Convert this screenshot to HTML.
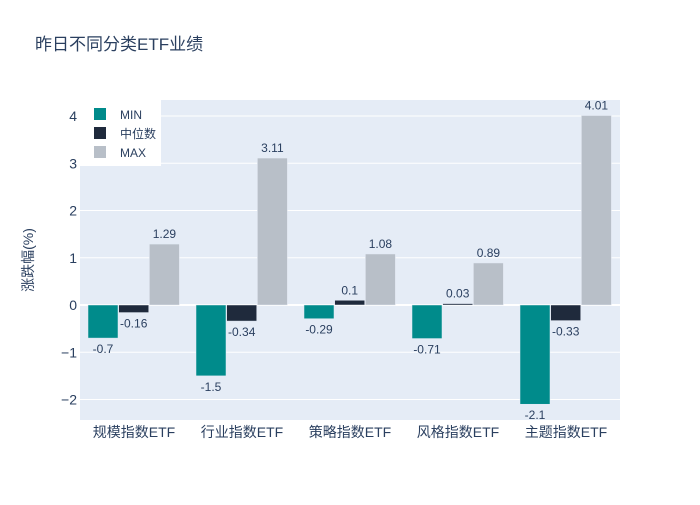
<!DOCTYPE html>
<html><head><meta charset="utf-8"><style>
body{margin:0;background:#fff;}
svg text{font-family:"Liberation Sans","Noto Sans CJK SC",sans-serif;}
</style></head><body>
<svg id="chart" width="700" height="500">
<text x="35" y="50" font-size="17" fill="#2a3f5f">昨日不同分类ETF业绩</text>
<rect x="80" y="100" width="540" height="320" fill="#e5ecf6"/>
<g id="grid"></g><g id="bars"></g><g id="labels"></g>
<text transform="translate(33,260) rotate(-90)" text-anchor="middle" font-size="14" fill="#2a3f5f">涨跌幅(%)</text>
<g id="legend"></g>
</svg>
<script>
const categories=["规模指数ETF","行业指数ETF","策略指数ETF","风格指数ETF","主题指数ETF"];
const seriesNames=["MIN","中位数","MAX"];
const minVals=[-0.7,-1.5,-0.29,-0.71,-2.1];
const medVals=[-0.16,-0.34,0.1,0.03,-0.33];
const maxVals=[1.29,3.11,1.08,0.89,4.01];
const yTicks=[-2,-1,0,1,2,3,4];
const colors=["#008b8b","#1f2a3c","#b8bfc8"];
const NS="http://www.w3.org/2000/svg";
const y=v=>305-v*47.25;
const band=108,x0=80;
function mk(tag,attrs,parent){const e=document.createElementNS(NS,tag);for(const k in attrs)e.setAttribute(k,attrs[k]);parent.appendChild(e);return e;}
const grid=document.getElementById('grid'),bars=document.getElementById('bars'),labels=document.getElementById('labels'),legend=document.getElementById('legend');
yTicks.forEach(t=>{
 const l=mk('line',{x1:80,x2:620,y1:y(t),y2:y(t),stroke:'#fff','stroke-width':t===0?2:1},grid);
 
 
 const tx=mk('text',{x:77,y:y(t)+5,'text-anchor':'end','font-size':14,fill:'#2a3f5f'},grid);
 
 
 tx.textContent=t<0?'\u2212'+Math.abs(t):String(t);
});
const all=[minVals,medVals,maxVals];
categories.forEach((c,i)=>{
 const gx=x0+i*band+8;
 all.forEach((arr,s)=>{
  const v=arr[i],bx=gx+s*30.7,top=Math.min(y(v),y(0)),h=Math.abs(y(v)-y(0));
  const r=mk('rect',{x:bx,y:top,width:30,height:Math.max(h,0.5),fill:colors[s],stroke:'#e5ecf6','stroke-width':0.5},bars);
  
  
  const ly=v>=0?y(v)-6:y(v)+15;
  const t=mk('text',{x:bx+15,y:ly,'text-anchor':'middle','font-size':12,fill:'#2a3f5f'},labels);
  
  
  t.textContent=String(v);
 });
 const ct=mk('text',{x:x0+i*band+band/2,y:437,'text-anchor':'middle','font-size':14,fill:'#2a3f5f'},labels);
 
 
 ct.textContent=c;
});
const lb=mk('rect',{x:80,y:100,width:81,height:66,fill:'#fff'},legend);


seriesNames.forEach((n,s)=>{
 const g=mk('g',{},legend);
 
 
 mk('rect',{x:94,y:108+s*19,width:12,height:12,fill:colors[s]},g);
 const t=mk('text',{x:120,y:119+s*19,'font-size':12,fill:'#2a3f5f'},g);
 t.textContent=n;
});
</script>
</body></html>
